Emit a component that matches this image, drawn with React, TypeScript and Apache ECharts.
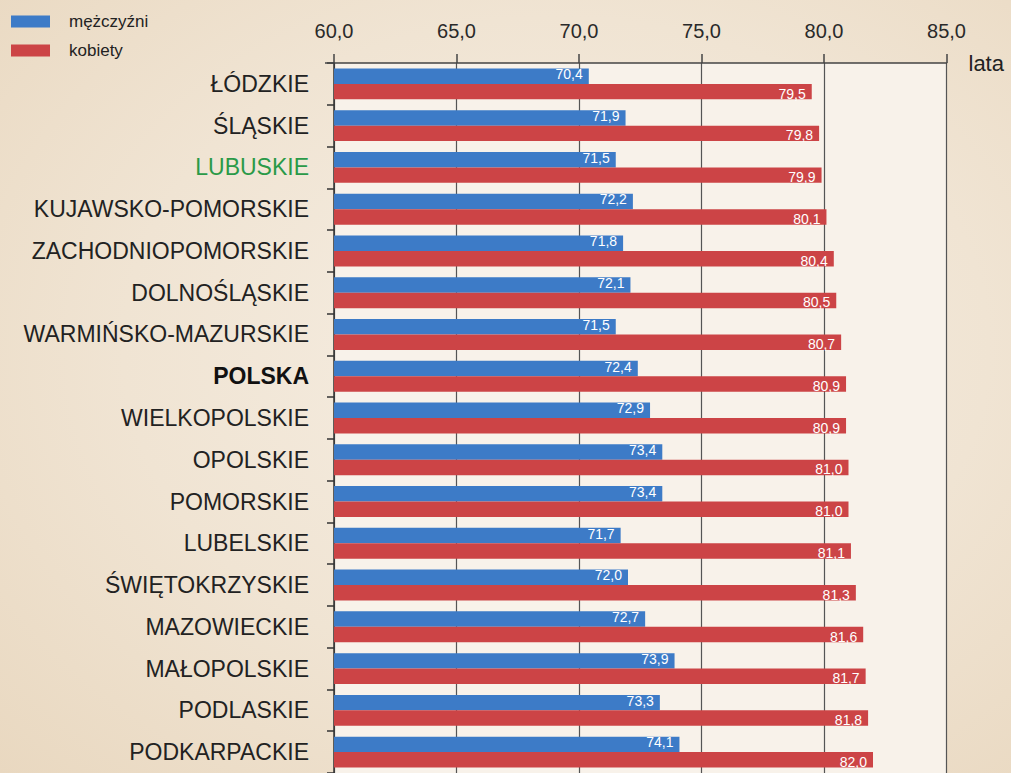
import React, { useEffect, useRef } from "react";
import * as echarts from "echarts";

const categories = [
  "ŁÓDZKIE", "ŚLĄSKIE", "LUBUSKIE", "KUJAWSKO-POMORSKIE", "ZACHODNIOPOMORSKIE",
  "DOLNOŚLĄSKIE", "WARMIŃSKO-MAZURSKIE", "POLSKA", "WIELKOPOLSKIE", "OPOLSKIE",
  "POMORSKIE", "LUBELSKIE", "ŚWIĘTOKRZYSKIE", "MAZOWIECKIE", "MAŁOPOLSKIE",
  "PODLASKIE", "PODKARPACKIE",
];
const men = [70.4, 71.9, 71.5, 72.2, 71.8, 72.1, 71.5, 72.4, 72.9, 73.4, 73.4, 71.7, 72.0, 72.7, 73.9, 73.3, 74.1];
const women = [79.5, 79.8, 79.9, 80.1, 80.4, 80.5, 80.7, 80.9, 80.9, 81.0, 81.0, 81.1, 81.3, 81.6, 81.7, 81.8, 82.0];
const seriesNames = ["mężczyźni", "kobiety"];
const axisMin = 60;
const axisMax = 85;
const axisStep = 5;
const unitName = "lata";

const fmt = (v: number) => v.toFixed(1).replace(".", ",");

export default function App() {
  const ref = useRef<HTMLDivElement>(null);
  useEffect(() => {
    if (!ref.current) return;
    const chart = echarts.init(ref.current, null, { renderer: "svg" });
    const labelFont = "'Liberation Sans Narrow', 'Arial Narrow', 'Liberation Sans', Arial, sans-serif";
    chart.setOption({
      animation: false,
      backgroundColor: "transparent",
      textStyle: { fontFamily: "'Liberation Sans', Arial, sans-serif" },
      legend: {
        orient: "vertical",
        left: 11,
        top: 13,
        padding: 0,
        itemWidth: 39,
        itemHeight: 12,
        itemGap: 12,
        icon: "rect",
        data: seriesNames,
        textStyle: { fontSize: 17, color: "#222", padding: [0, 0, 0, 14] },
      },
      grid: {
        left: 334,
        top: 63,
        width: 612.5,
        height: 711,
        show: true,
        backgroundColor: "#f8f2ea",
        borderWidth: 0,
        containLabel: false,
      },
      xAxis: {
        type: "value",
        position: "top",
        min: axisMin,
        max: axisMax,
        interval: axisStep,
        name: unitName,
        nameLocation: "end",
        nameGap: 22,
        nameTextStyle: { fontSize: 22, color: "#222", verticalAlign: "middle" },
        axisLine: { show: true, lineStyle: { color: "#444", width: 1.5 } },
        axisTick: { show: true, length: 9, lineStyle: { color: "#444", width: 1.5 } },
        axisLabel: {
          formatter: (v: number) => fmt(v),
          fontSize: 20,
          color: "#2a2a2a",
          margin: 22,
        },
        splitLine: { show: true, lineStyle: { color: "#555", width: 1.2 } },
      },
      yAxis: {
        type: "category",
        inverse: true,
        data: categories,
        axisLine: { show: true, lineStyle: { color: "#333", width: 1.5 } },
        axisTick: { show: true, length: 7, lineStyle: { color: "#333", width: 1.5 } },
        axisLabel: {
          margin: 25,
          fontSize: 23,
          color: "#222",
          formatter: (v: string) => {
            if (v === "LUBUSKIE") return "{g|" + v + "}";
            if (v === "POLSKA") return "{b|" + v + "}";
            return v;
          },
          rich: {
            g: { color: "#2a9a48", fontSize: 23 },
            b: { color: "#111", fontSize: 23, fontWeight: "bold" },
          },
        },
      },
      graphic: [
        {
          type: "line",
          shape: { x1: 325, y1: 63, x2: 334, y2: 63 },
          style: { stroke: "#444", lineWidth: 1.5 },
          z: 10,
        },
      ],
      series: [
        {
          name: seriesNames[0],
          type: "bar",
          data: men,
          barGap: "0%",
          barCategoryGap: "26%",
          itemStyle: { color: "#3d7bc7" },
          label: {
            show: true,
            position: "insideRight",
            offset: [-1, -2],
            formatter: (p: any) => fmt(p.value),
            color: "#fff",
            fontSize: 14,
            fontFamily: labelFont,
          },
        },
        {
          name: seriesNames[1],
          type: "bar",
          data: women,
          barGap: "0%",
          barCategoryGap: "26%",
          itemStyle: { color: "#cc4446" },
          label: {
            show: true,
            position: "insideRight",
            offset: [-1, 2],
            formatter: (p: any) => fmt(p.value),
            color: "#fff",
            fontSize: 14,
            fontFamily: labelFont,
          },
        },
      ],
    });
    return () => chart.dispose();
  }, []);
  return (
    <div
      ref={ref}
      style={{
        position: "absolute",
        left: 0,
        top: 0,
        width: 1011,
        height: 773,
        background:
          "radial-gradient(ellipse at 55% 45%, #f6eee3 0%, #f0e4d3 55%, #e9d8c0 100%)",
      }}
    />
  );
}
